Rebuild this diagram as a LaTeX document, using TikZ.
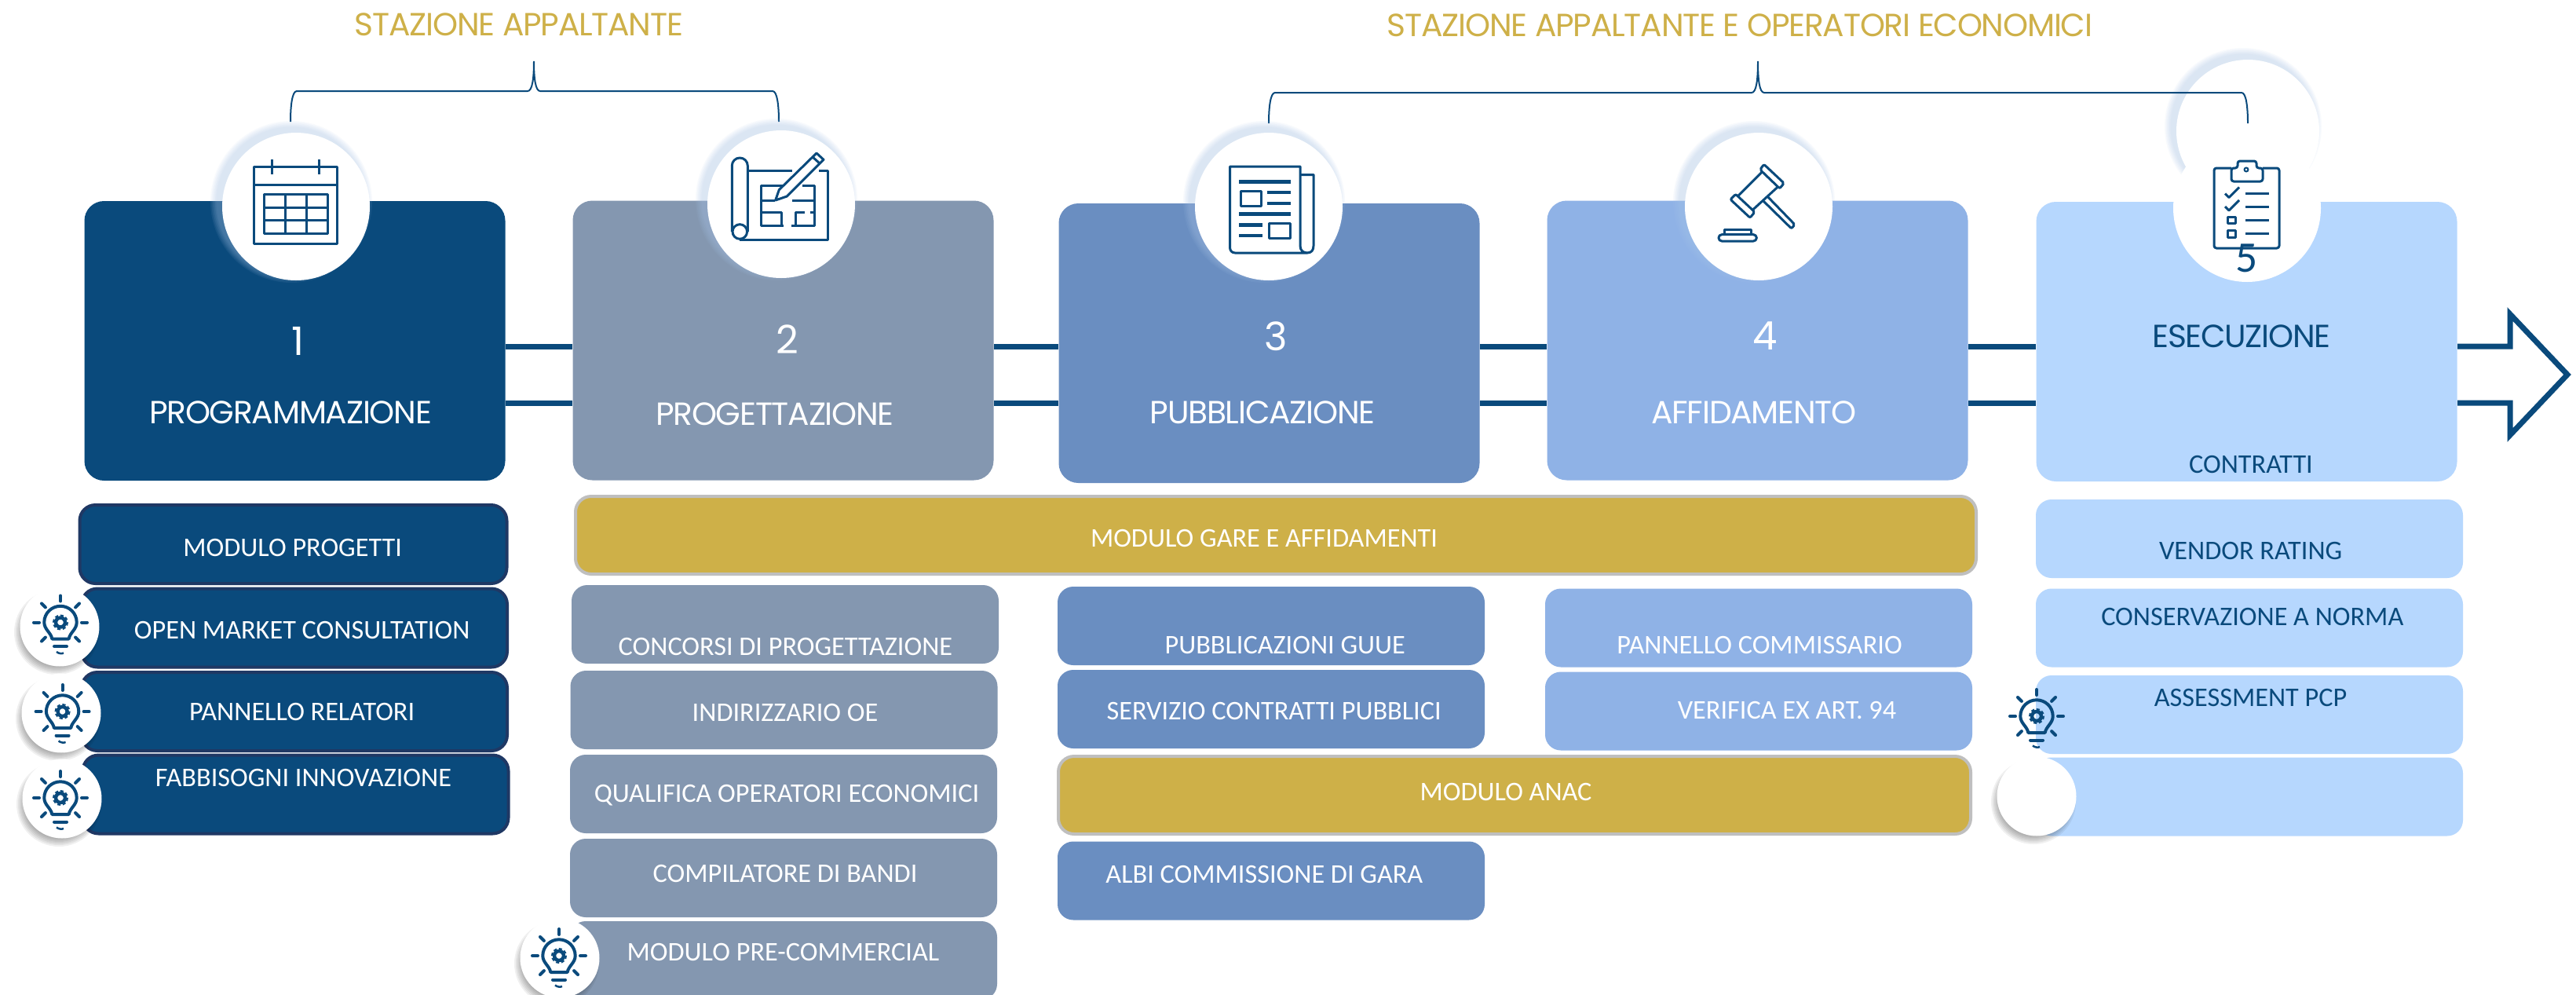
\documentclass[tikz,border=0pt]{standalone}
\usepackage{fontspec}
\setmainfont{Carlito}
\newfontfamily\titlefont[LetterSpace=-3]{Poppins}
\usetikzlibrary{calc, positioning}
\definecolor{navy}{HTML}{0A4A7C}
\definecolor{slate}{HTML}{8497B0}
\definecolor{steel}{HTML}{6A8EC1}
\definecolor{sky}{HTML}{8FB2E6}
\definecolor{pale}{HTML}{B6D7FE}
\definecolor{gold}{HTML}{CEB048}
\definecolor{edge}{HTML}{BFBFBF}
\definecolor{deep}{HTML}{1F3864}
\definecolor{halo}{HTML}{A9C4E8}
\tikzset{
  pics/bulbicon/.style={code={
    \draw[icon, line width=.04cm] (-.107,.21) .. controls (-.12,.13) and (-.207,.09) .. (-.207,0) .. controls (-.207,-.12) and (-.11,-.207) .. (0,-.207) .. controls (.11,-.207) and (.207,-.12) .. (.207,0) .. controls (.207,.09) and (.12,.13) .. (.107,.21) -- cycle;
    \draw[icon, line width=.045cm] (0,0) circle (.06);
    \draw[icon, line width=.02cm, dash pattern=on .04cm off .03cm] (0,0) circle (.09);
    \foreach \a in {0,45,135,180,225,315,270}
      \draw[icon, line width=.04cm, line cap=round] (\a:.27) -- (\a:.34);
    \draw[icon, line width=.04cm, line cap=round] (-.08,.305) -- (.08,.305);
    \draw[icon, line width=.025cm] (-.05,.375) .. controls (-.02,.4) and (.02,.4) .. (.04,.39);
  }}
}
\begin{document}
\begin{tikzpicture}[x=1cm,y=-1cm,
  stage/.style={rectangle, rounded corners=.25cm, minimum width=5.36cm, minimum height=3.56cm, inner sep=0pt},
  item/.style={rectangle, rounded corners=.2cm, minimum width=5.44cm, minimum height=1cm, inner sep=0pt},
  bar/.style={item, fill=gold, draw=edge, line width=.04cm, minimum height=.99cm},
  nav/.style={item, fill=navy, draw=deep, line width=.04cm},
  disc/.style={circle, fill=white, minimum size=1.88cm, inner sep=0pt},
  spot/.style={circle, fill=white, minimum size=1.01cm, inner sep=0pt},
  txt/.style={font=\fontsize{9.75}{11}\selectfont, text=white, inner sep=0pt},
  big/.style={font=\titlefont\fontsize{11.6}{13}\selectfont, text=white, inner sep=0pt},
  num/.style={font=\titlefont\fontsize{14.2}{16}\selectfont, text=white, inner sep=0pt},
  icon/.style={draw=navy, line width=.03cm, line join=round},
  ink/.style={draw=navy, line width=.045cm},
  rail/.style={draw=navy, line width=.07cm},
  brace/.style={draw=navy, line width=.02cm}]
  \useasboundingbox (0,0) rectangle (32.81,12.67);
  \fill[white] (0,0) rectangle (32.81,12.67);

  \coordinate (ra) at (0,4.41);
  \coordinate (rb) at (0,5.13);
  \coordinate (ta) at (31.97,4.41);
  \coordinate (tb) at (31.97,5.13);
  \coordinate (tu) at (31.97,4.00);
  \coordinate (td) at (31.97,5.54);
  \coordinate (tip) at (32.70,4.77);

  \node[stage, fill=navy] (s1) at (3.755,4.34) {};
  \node[stage, fill=slate] (s2) at (9.975,4.335) {};
  \node[stage, fill=steel] (s3) at (16.165,4.37) {};
  \node[stage, fill=sky] (s4) at (22.385,4.335) {};
  \node[stage, fill=pale] (s5) at (28.615,4.35) {};

  \foreach \a/\b in {s1/s2,s2/s3,s3/s4,s4/s5} {
    \draw[rail] (\a.east |- ra) -- (\b.west |- ra);
    \draw[rail] (\a.east |- rb) -- (\b.west |- rb);
  }
  \draw[rail, line join=miter] (s5.east |- ra) -- (ta) -- (tu) -- (tip) -- (td) -- (tb) -- (s5.east |- rb);

  \foreach \g in {.015,.03,...,.1}
    \fill[halo, opacity=.08] (28.57,1.61) circle (.91+\g);
  \node[circle, fill=white, minimum size=1.82cm, inner sep=0pt] (d0) at (28.63,1.67) {};

  \coordinate (b1l) at (3.70,1.55);
  \coordinate (b1m) at (6.80,.78);
  \coordinate (b1r) at (9.92,1.55);
  \coordinate (b2l) at (16.16,1.57);
  \coordinate (b2m) at (22.39,.78);
  \coordinate (b2r) at (28.63,1.57);
  \draw[brace] (b1l) .. controls (3.70,1.35) and (3.72,1.16) .. (3.78,1.16) -- (6.72,1.16) .. controls (6.78,1.16) and (6.80,1.0) .. (b1m) .. controls (6.80,1.0) and (6.82,1.16) .. (6.88,1.16) -- (9.84,1.16) .. controls (9.90,1.16) and (9.92,1.35) .. (b1r);
  \draw[brace] (b2l) .. controls (16.16,1.37) and (16.18,1.18) .. (16.24,1.18) -- (22.31,1.18) .. controls (22.37,1.18) and (22.39,1.02) .. (b2m) .. controls (22.39,1.02) and (22.41,1.18) .. (22.47,1.18) -- (28.55,1.18) .. controls (28.61,1.18) and (28.63,1.37) .. (b2r);

  \foreach \nm/\cx/\cy in {d1/3.77/2.63,d2/9.95/2.60,d3/16.16/2.63,d4/22.40/2.63} {
    \foreach \g in {.015,.03,...,.1}
      \fill[halo, opacity=.08] (\cx-.06,\cy-.06) circle (.94+\g);
    \node[disc] (\nm) at (\cx,\cy) {};
  }
  \node[disc] (d5) at (28.62,2.65) {};

  \node[big, text=gold] (h1) at (6.61,.31) {STAZIONE APPALTANTE};
  \node[big, text=gold] (h2) at (22.16,.32) {STAZIONE APPALTANTE E OPERATORI ECONOMICI};

  \node[num] (n1) at (3.79,4.34) {1};
  \node[num] (n2) at (10.03,4.32) {2};
  \node[num] (n3) at (16.25,4.28) {3};
  \node[num] (n4) at (22.48,4.28) {4};
  \node[txt, text=navy, font=\fontsize{15.8}{18}\selectfont] (n5) at (28.62,3.29) {5};
  \node[big] (t1) at (3.70,5.255) {PROGRAMMAZIONE};
  \node[big] (t2) at (9.87,5.275) {PROGETTAZIONE};
  \node[big] (t3) at (16.08,5.25) {PUBBLICAZIONE};
  \node[big] (t4) at (22.34,5.25) {AFFIDAMENTO};
  \node[big, text=navy] (t5) at (28.55,4.28) {ESECUZIONE};
  \node[txt, text=navy] (t6) at (28.67,5.91) {CONTRATTI};

  \node[nav] (m1) at (3.735,6.93) {};
  \node[nav, minimum width=5.42cm] (m2) at (3.75,7.995) {};
  \node[nav, minimum width=5.42cm] (m3) at (3.75,9.06) {};
  \node[nav, minimum width=5.42cm] (m4) at (3.765,10.115) {};
  \node[txt] (x1) at (3.727,6.97) {MODULO PROGETTI};
  \node[txt] (x2) at (3.847,8.02) {OPEN MARKET CONSULTATION};
  \node[txt] (x3) at (3.847,9.06) {PANNELLO RELATORI};
  \node[txt] (x4) at (3.864,9.90) {FABBISOGNI INNOVAZIONE};

  \node[bar, minimum width=17.84cm] (g1) at (16.25,6.815) {};
  \node[bar, minimum width=11.62cm] (g2) at (19.29,10.125) {};
  \node[txt] (y1) at (16.10,6.85) {MODULO GARE E AFFIDAMENTI};
  \node[txt] (y2) at (19.18,10.08) {MODULO ANAC};

  \node[item, fill=slate] (p1) at (10.0,7.95) {};
  \node[item, fill=slate] (p2) at (9.985,9.04) {};
  \node[item, fill=slate] (p3) at (9.98,10.11) {};
  \node[item, fill=slate] (p4) at (9.98,11.18) {};
  \node[item, fill=slate] (p5) at (9.98,12.23) {};
  \node[txt] (z1) at (10.004,8.235) {CONCORSI DI PROGETTAZIONE};
  \node[txt] (z2) at (10.0,9.07) {INDIRIZZARIO OE};
  \node[txt] (z3) at (10.02,10.13) {QUALIFICA OPERATORI ECONOMICI};
  \node[txt] (z4) at (10.0,11.12) {COMPILATORE DI BANDI};
  \node[txt] (z5) at (9.975,12.12) {MODULO PRE-COMMERCIAL};

  \node[item, fill=steel] (q1) at (16.19,7.97) {};
  \node[item, fill=steel] (q2) at (16.19,9.03) {};
  \node[item, fill=steel] (q3) at (16.19,11.215) {};
  \node[txt] (v1) at (16.367,8.214) {PUBBLICAZIONI GUUE};
  \node[txt] (v2) at (16.227,9.05) {SERVIZIO CONTRATTI PUBBLICI};
  \node[txt] (v3) at (16.104,11.13) {ALBI COMMISSIONE DI GARA};

  \node[item, fill=sky] (r1) at (22.40,7.995) {};
  \node[item, fill=sky] (r2) at (22.40,9.055) {};
  \node[txt] (w1) at (22.41,8.214) {PANNELLO COMMISSARIO};
  \node[txt] (w2) at (22.76,9.05) {VERIFICA EX ART. 94};

  \node[item, fill=pale] (c1) at (28.65,6.86) {};
  \node[item, fill=pale] (c2) at (28.65,7.995) {};
  \node[item, fill=pale] (c3) at (28.65,9.10) {};
  \node[item, fill=pale] (c4) at (28.65,10.145) {};
  \node[txt, text=navy] (u1) at (28.666,7.017) {VENDOR RATING};
  \node[txt, text=navy] (u2) at (28.688,7.85) {CONSERVAZIONE A NORMA};
  \node[txt, text=navy] (u3) at (28.666,8.88) {ASSESSMENT PCP};

  \foreach \nm/\cx/\cy in {e1/.76/7.98,e2/.78/9.08,e3/.79/10.17,e4/7.13/12.20,e5/25.94/10.14} {
    \foreach \g in {0,.02,...,.12}
      \fill[black, opacity=.06] (\cx-.04,\cy+.07) circle (.44+\g);
    \node[spot] (\nm) at (\cx,\cy) {};
  }
  \pic at (.77,7.925) {bulbicon};
  \pic at (.796,9.06) {bulbicon};
  \pic at (.77,10.16) {bulbicon};
  \pic at (7.12,12.17) {bulbicon};
  \pic at (25.94,9.12) {bulbicon};

  % calendar
  \draw[icon] (3.23,2.12) rectangle (4.29,3.10);
  \draw[icon] (3.23,2.35) -- (4.29,2.35);
  \draw[icon] (3.46,2.03) -- (3.46,2.22);
  \draw[icon] (4.06,2.03) -- (4.06,2.22);
  \draw[icon] (3.36,2.47) rectangle (4.17,2.97);
  \draw[icon] (3.63,2.47) -- (3.63,2.97);
  \draw[icon] (3.90,2.47) -- (3.90,2.97);
  \draw[icon] (3.36,2.64) -- (4.17,2.64);
  \draw[icon] (3.36,2.80) -- (4.17,2.80);

  % blueprint
  \draw[icon] (9.523,2.173) -- (10.093,2.173);
  \draw[icon] (10.433,2.173) -- (10.543,2.173) -- (10.543,3.05) -- (9.423,3.05);
  \draw[icon] (9.323,2.95) -- (9.323,2.11) arc (180:360:.10) -- (9.523,2.95);
  \draw[icon] (9.423,2.95) circle (.093);
  \draw[icon] (9.983,2.367) -- (9.693,2.367) -- (9.693,2.877) -- (9.983,2.877);
  \draw[icon] (10.083,2.877) -- (10.373,2.877) -- (10.373,2.367) -- (10.217,2.367);
  \draw[icon] (9.693,2.557) -- (9.867,2.557);
  \draw[icon] (10.093,2.557) -- (10.373,2.557);
  \draw[icon] (9.693,2.70) -- (9.95,2.70) -- (9.95,2.877);
  \draw[icon] (10.133,2.877) -- (10.133,2.70) -- (10.25,2.70);
  \draw[icon] (10.317,2.70) -- (10.373,2.70);
  \draw[icon, fill=white] (9.877,2.55) -- (9.923,2.417) -- (10.40,1.95) -- (10.49,2.033) -- (10.023,2.50) -- cycle;
  \draw[icon] (10.343,1.993) -- (10.443,2.083);

  % newspaper
  \draw[icon] (15.665,2.12) -- (16.56,2.12) -- (16.56,3.13) .. controls (16.56,3.19) and (16.60,3.22) .. (16.65,3.22) -- (15.73,3.22) .. controls (15.69,3.22) and (15.665,3.19) .. (15.665,3.15) -- cycle;
  \draw[icon] (16.56,2.225) -- (16.73,2.225) -- (16.73,3.13) .. controls (16.73,3.19) and (16.70,3.22) .. (16.65,3.22);
  \draw[ink] (15.78,2.315) -- (16.44,2.315);
  \draw[icon] (15.80,2.43) rectangle (16.065,2.62);
  \draw[ink] (16.14,2.45) -- (16.44,2.45);
  \draw[ink] (16.14,2.59) -- (16.44,2.59);
  \draw[ink] (15.78,2.726) -- (16.44,2.726);
  \draw[ink] (15.78,2.865) -- (16.08,2.865);
  \draw[ink] (15.78,3.00) -- (16.08,3.00);
  \draw[icon] (16.16,2.84) rectangle (16.43,3.03);

  % gavel
  \draw[icon, rounded corners=.02cm] (22.467,2.093) -- (22.723,2.333) -- (22.667,2.40) -- (22.417,2.16) -- cycle;
  \draw[icon, rounded corners=.02cm] (22.107,2.473) -- (22.35,2.70) -- (22.29,2.773) -- (22.04,2.54) -- cycle;
  \draw[icon] (22.44,2.193) -- (22.14,2.493);
  \draw[icon] (22.323,2.673) -- (22.64,2.383);
  \draw[icon, rounded corners=.02cm] (22.517,2.507) -- (22.86,2.86) -- (22.817,2.91) -- (22.46,2.56);
  \draw[icon] (21.96,2.983) -- (21.96,2.923) -- (22.30,2.923) -- (22.30,2.983);
  \draw[icon, rounded corners=.04cm] (21.89,2.987) rectangle (22.373,3.07);

  % clipboard
  \draw[icon, rounded corners=.03cm] (28.42,2.14) -- (28.20,2.14) -- (28.20,3.16) -- (29.03,3.16) -- (29.03,2.14) -- (28.82,2.14);
  \draw[icon, rounded corners=.03cm] (28.42,2.31) -- (28.42,2.14) -- (28.50,2.14) -- (28.50,2.05) -- (28.74,2.05) -- (28.74,2.14) -- (28.82,2.14) -- (28.82,2.31) -- cycle;
  \draw[icon, line width=.02cm] (28.61,2.16) circle (.025);
  \foreach \py in {2.465,2.63} {
    \draw[icon] (28.34,\py) -- (28.39,\py+.05) -- (28.52,\py-.08);
  }
  \foreach \py in {2.465,2.63,2.80,2.975}
    \draw[icon] (28.60,\py) -- (28.90,\py);
  \draw[icon] (28.37,2.76) rectangle (28.47,2.845);
  \draw[icon] (28.37,2.93) rectangle (28.47,3.02);
\end{tikzpicture}
\end{document}
